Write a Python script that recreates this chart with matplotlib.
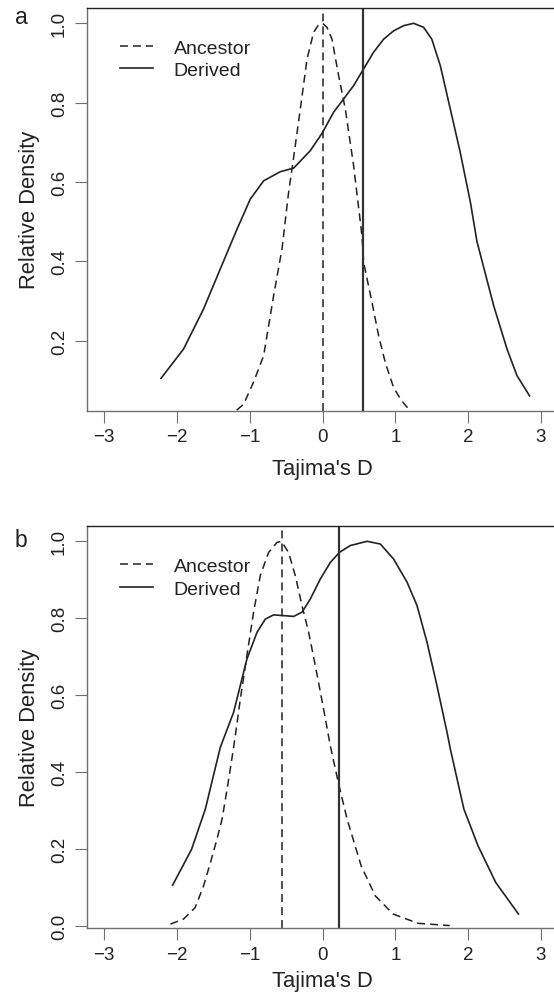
import matplotlib.pyplot as plt

plt.rcParams['font.family'] = ['Liberation Sans', 'DejaVu Sans']

# panel a: density curves (x = Tajima's D, y = relative density)
anc_a_x = [-1.18, -1.085, -0.95, -0.81, -0.673, -0.558, -0.467, -0.407, -0.306, -0.214, -0.124, -0.06, 0.0,
           0.06, 0.129, 0.22, 0.312, 0.426, 0.541, 0.564, 0.678, 0.77, 0.861, 0.975, 1.08, 1.18]
anc_a_y = [0.025, 0.04, 0.095, 0.162, 0.313, 0.431, 0.574, 0.65, 0.784, 0.91, 0.977, 0.995, 1.0,
           0.99, 0.96, 0.868, 0.784, 0.641, 0.464, 0.397, 0.297, 0.212, 0.145, 0.082, 0.05, 0.028]
der_a_x = [-2.22, -1.91, -1.635, -1.405, -1.176, -0.993, -0.81, -0.581, -0.398, -0.169, 0.0, 0.151, 0.288,
           0.426, 0.563, 0.70, 0.838, 0.975, 1.113, 1.25, 1.387, 1.50, 1.617, 1.754, 1.89, 2.03, 2.12,
           2.35, 2.533, 2.67, 2.843]
der_a_y = [0.105, 0.179, 0.28, 0.381, 0.481, 0.557, 0.603, 0.626, 0.635, 0.679, 0.725, 0.776, 0.809,
           0.843, 0.885, 0.927, 0.96, 0.981, 0.994, 1.0, 0.99, 0.96, 0.893, 0.784, 0.675, 0.549, 0.45,
           0.288, 0.179, 0.112, 0.061]
anc_a_mean = 0.0
der_a_mean = 0.555

# panel b
anc_b_x = [-2.09, -1.91, -1.75, -1.635, -1.54, -1.45, -1.38, -1.30, -1.222, -1.13, -1.04, -0.948, -0.856,
           -0.742, -0.627, -0.567, -0.467, -0.375, -0.283, -0.192, -0.10, 0.014, 0.106, 0.22, 0.336,
           0.53, 0.725, 0.968, 1.31, 1.746]
anc_b_y = [0.006, 0.019, 0.049, 0.105, 0.166, 0.227, 0.279, 0.37, 0.465, 0.59, 0.703, 0.816, 0.911,
           0.971, 0.997, 1.0, 0.971, 0.911, 0.833, 0.764, 0.677, 0.564, 0.469, 0.37, 0.279,
           0.157, 0.079, 0.032, 0.008, 0.002]
der_b_x = [-2.06, -1.80, -1.61, -1.405, -1.222, -1.04, -0.90, -0.787, -0.673, -0.536, -0.398, -0.283,
           -0.169, -0.032, 0.106, 0.23, 0.38, 0.61, 0.793, 0.975, 1.16, 1.297, 1.434, 1.571, 1.709,
           1.754, 1.94, 2.135, 2.378, 2.69]
der_b_y = [0.107, 0.2, 0.305, 0.465, 0.556, 0.694, 0.764, 0.798, 0.809, 0.807, 0.805, 0.816,
           0.85, 0.902, 0.945, 0.971, 0.989, 1.0, 0.993, 0.954, 0.894, 0.833, 0.738, 0.625, 0.504,
           0.461, 0.305, 0.209, 0.114, 0.032]
anc_b_mean = -0.555
der_b_mean = 0.225

x_ticks = [-3, -2, -1, 0, 1, 2, 3]

ink = '#222222'
grey = '#707070'
dash = (0, (5.2, 3.3))

fig = plt.figure(figsize=(5.54, 9.95), dpi=100)
W, H = 554, 995


def panel(box, ylim, yticks, anc_x, anc_y, der_x, der_y, anc_m, der_m, letter, letter_y, xlab_y):
    x0, top, x1, bot = box
    ax = fig.add_axes([x0 / W, 1 - bot / H, (x1 - x0) / W, (bot - top) / H])
    l1, = ax.plot(anc_x, anc_y, color=ink, lw=1.1, linestyle=dash, label='Ancestor')
    l2, = ax.plot(der_x, der_y, color=ink, lw=1.2, label='Derived')
    ax.axvline(anc_m, color=ink, lw=1.1, linestyle=dash)
    ax.axvline(der_m, color='#333333', lw=1.6)
    ax.set_xlim(-3.24, 3.24)
    ax.set_ylim(*ylim)
    ax.set_xticks(x_ticks)
    ax.set_yticks(yticks)
    ax.set_yticklabels(['%.1f' % v for v in yticks], rotation=90, va='center')
    ax.tick_params(direction='out', length=8.4, width=0.8, color=grey, labelsize=13.5,
                   labelcolor=ink)
    ax.tick_params(axis='x', pad=4)
    ax.tick_params(axis='y', pad=5)
    ax.spines['right'].set_visible(False)
    ax.spines['top'].set_color(ink)
    ax.spines['top'].set_linewidth(1.0)
    for s in ('left', 'bottom'):
        ax.spines[s].set_color(grey)
        ax.spines[s].set_linewidth(1.0)
    ax.set_xlabel("Tajima's D", fontsize=15.8, color=ink)
    ax.set_ylabel('Relative Density', fontsize=15.8, color=ink)
    ax.xaxis.set_label_coords(0.5, xlab_y)
    ax.yaxis.set_label_coords(-0.1, 0.5)
    ax.legend(handles=[l1, l2], loc='upper left', bbox_to_anchor=(0.0706, 0.922),
              frameon=False, fontsize=14, handlelength=1.7, handletextpad=1.05,
              labelspacing=0.24, borderpad=0, borderaxespad=0, labelcolor=ink)
    fig.text(15 / W, 1 - letter_y / H, letter, fontsize=16.5, color=ink, ha='left', va='baseline')
    return ax


panel((86.7, 9.0, 558.5, 411.7), (0.0236, 1.0386), [0.2, 0.4, 0.6, 0.8, 1.0],
      anc_a_x, anc_a_y, der_a_x, der_a_y, anc_a_mean, der_a_mean, 'a', 24, -0.118)
panel((86.7, 527.3, 558.5, 929.3), (-0.005, 1.039), [0.0, 0.2, 0.4, 0.6, 0.8, 1.0],
      anc_b_x, anc_b_y, der_b_x, der_b_y, anc_b_mean, der_b_mean, 'b', 547, -0.104)

fig.savefig('out.png', dpi=100)
